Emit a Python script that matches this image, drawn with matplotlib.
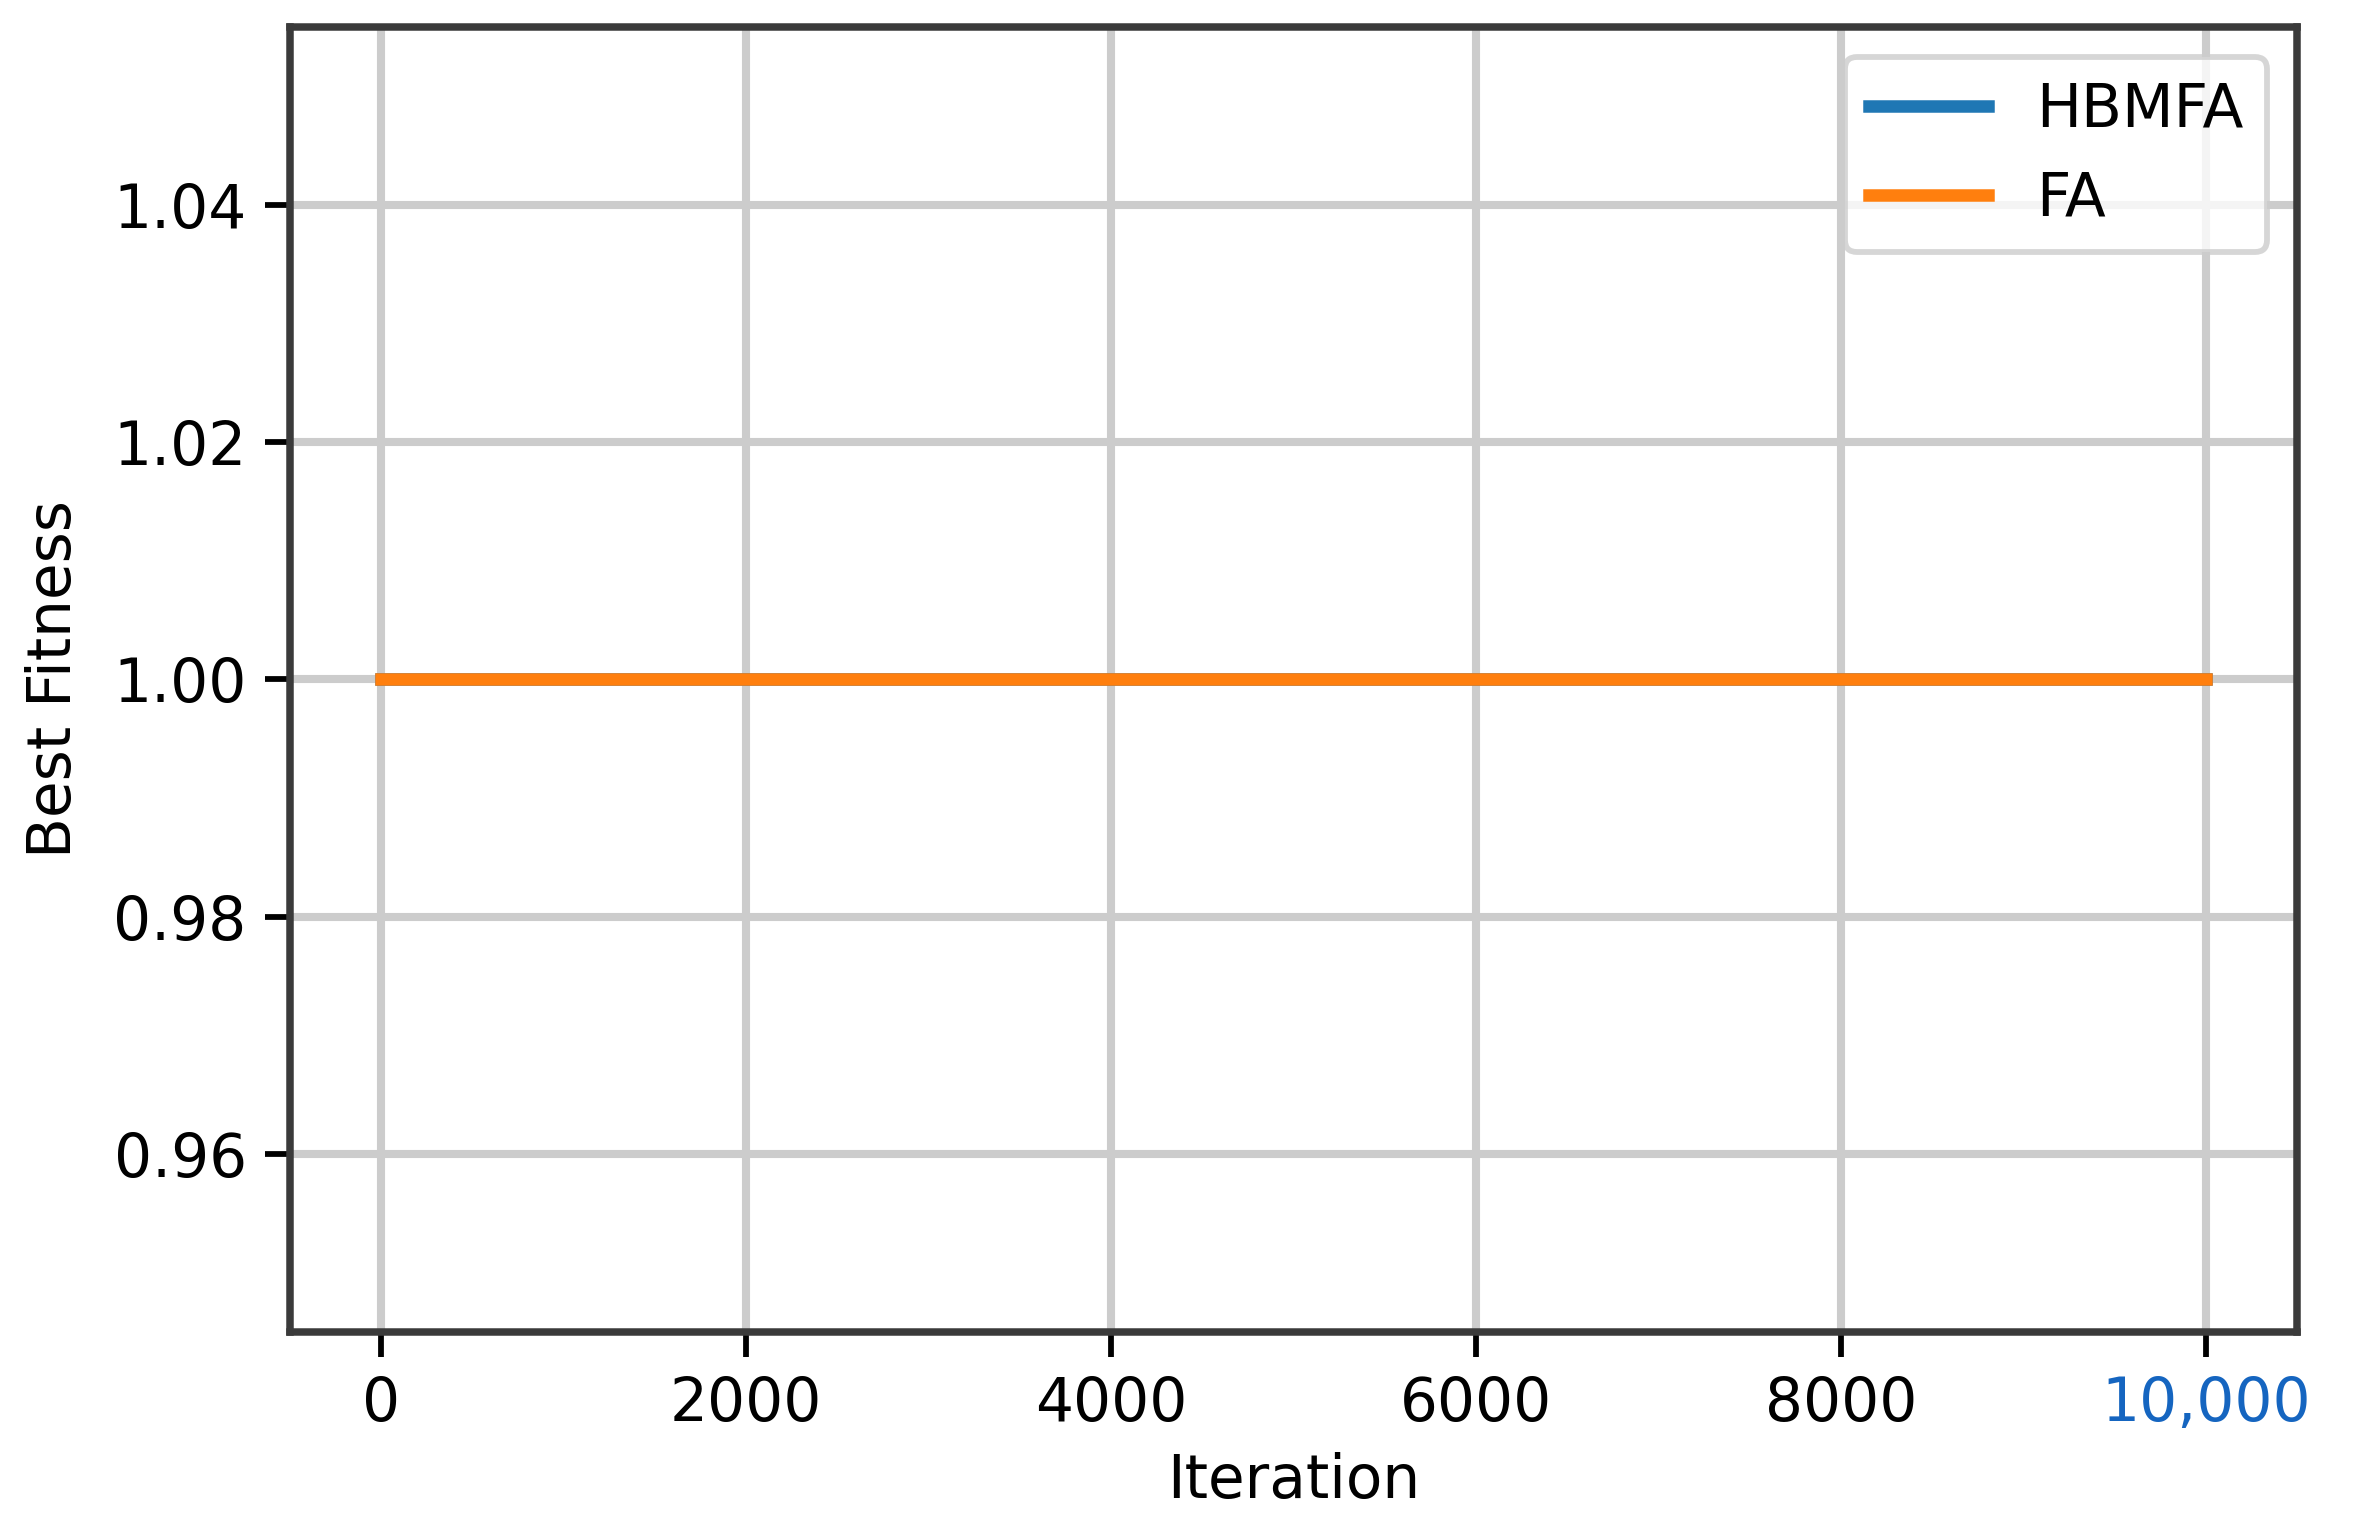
import matplotlib
matplotlib.use('Agg')
import matplotlib.pyplot as plt

# convergence data (both runs flat at 1.0)
iterations = [0, 10000]
hbmfa_fitness = [1.0, 1.0]
fa_fitness = [1.0, 1.0]

x_ticks = [0, 2000, 4000, 6000, 8000, 10000]
x_tick_labels = ['0', '2000', '4000', '6000', '8000', '10,000']
y_ticks = [0.96, 0.98, 1.00, 1.02, 1.04]

S = 5.2  # scale factor vs default matplotlib sizes
FS = 43  # font size

fig = plt.figure(figsize=(23.54, 15.39), dpi=100)
ax = fig.add_axes([0.1232, 0.1345, 0.8526, 0.848])

ax.plot(iterations, hbmfa_fitness, color='#1f77b4', linewidth=9.0, label='HBMFA')
ax.plot(iterations, fa_fitness, color='#ff7f0e', linewidth=9.0, label='FA')

ax.set_xlim(-500, 10500)
ax.set_ylim(0.945, 1.055)
ax.set_xticks(x_ticks)
ax.set_xticklabels(x_tick_labels)
ax.set_yticks(y_ticks)
ax.set_yticklabels(['%.2f' % v for v in y_ticks])
ax.get_xticklabels()[-1].set_color('#1565c0')

ax.tick_params(labelsize=FS, width=0.8 * S, length=3.5 * S, pad=2.5 * S)
for sp in ax.spines.values():
    sp.set_linewidth(0.8 * S * 1.3)
    sp.set_color('#3a3a3a')

ax.grid(True, color='#cccccc', linewidth=0.8 * S * 1.4)
ax.set_axisbelow(True)

ax.set_xlabel('Iteration', fontsize=FS, labelpad=2.5 * S)
ax.set_ylabel('Best Fitness', fontsize=FS, labelpad=4 * S)

leg = ax.legend(loc='upper right', fontsize=FS, framealpha=0.8,
                edgecolor='#cccccc', fancybox=True)
leg.get_frame().set_linewidth(0.8 * S)

fig.savefig('out.png', dpi=100)
plt.close(fig)
